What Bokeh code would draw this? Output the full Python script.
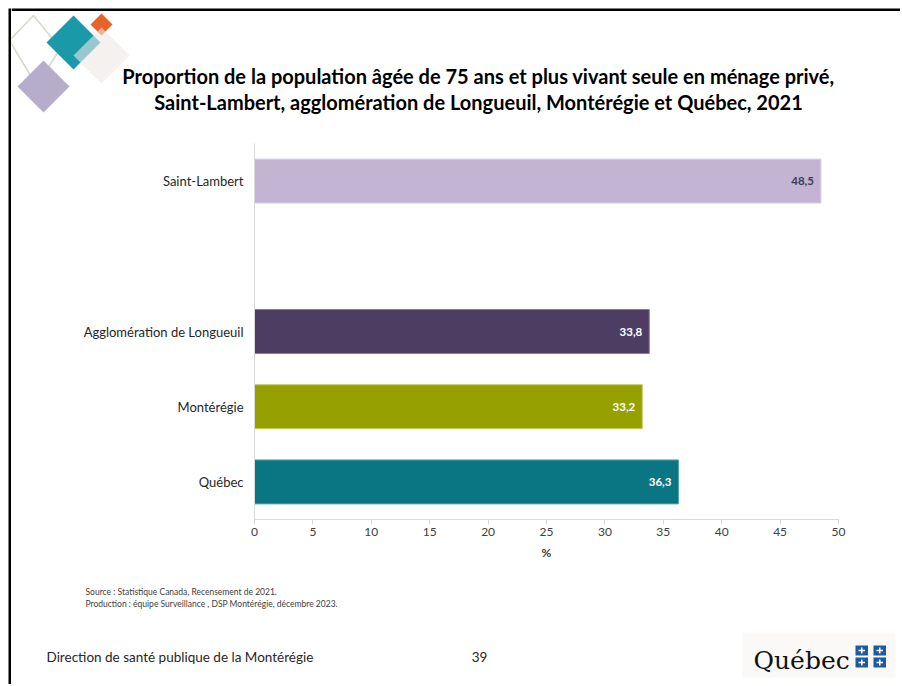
from bokeh.plotting import figure
from bokeh.models import ColumnDataSource, LabelSet, FactorRange, Range1d, FixedTicker
from bokeh.layouts import row, column
from bokeh.core.properties import value
from bokeh.embed import file_html
from bokeh.resources import INLINE

# ---------------- data ----------------
categories = ["Québec", "Montérégie", "Agglomération de Longueuil", " ", "Saint-Lambert"]
regions = ["Saint-Lambert", "Agglomération de Longueuil", "Montérégie", "Québec"]
values = [48.5, 33.8, 33.2, 36.3]
value_labels = ["48,5", "33,8", "33,2", "36,3"]
bar_colors = ["#c3b4d4", "#4e3d63", "#96a100", "#0a7684"]
bar_line_colors = ["#ddd3e8", "#8a7e9c", "#c4cc66", "#5aa5ae"]
label_colors = ["#3c3a55", "#ffffff", "#ffffff", "#ffffff"]
x_ticks = [0, 5, 10, 15, 20, 25, 30, 35, 40, 45, 50]

title_lines = ["Proportion de la population âgée de 75 ans et plus vivant seule en ménage privé,",
               "Saint-Lambert, agglomération de Longueuil, Montérégie et Québec, 2021"]
source_lines = ["Source : Statistique Canada, Recensement de 2021.",
                "Production : équipe Surveillance , DSP Montérégie, décembre 2023."]
footer_left = "Direction de santé publique de la Montérégie"
page_number = "39"
logo_text = "Québec"

FONT = "Lato"
TOTAL_W, TOTAL_H = 900, 684
STRIP_W = 11
MAIN_W = TOTAL_W - STRIP_W
HEAD_H, CHART_H = 135, 434
FOOT_H = TOTAL_H - HEAD_H - CHART_H


def canvas_fig(w, h):
    f = figure(width=w, height=h, x_range=Range1d(0, w), y_range=Range1d(h, 0),
               x_axis_type=None, y_axis_type=None, output_backend="svg",
               toolbar_location=None, min_border=0, frame_align=False)
    f.outline_line_color = None
    f.background_fill_color = "white"
    f.border_fill_color = "white"
    return f


def put_text(f, x, y, t, size, align="left", bold=False, color="#000000", font=FONT,
             baseline="middle"):
    f.text(x=[x], y=[y], text=[t], text_font=value(font), text_font_size=size,
           text_align=align, text_baseline=baseline, text_color=color,
           text_font_style="bold" if bold else "normal")


def diamond(f, cx, cy, r, color, alpha=1.0):
    f.patch(x=[cx, cx + r, cx, cx - r], y=[cy - r, cy, cy + r, cy],
            fill_color=color, fill_alpha=alpha, line_color=None)


# ---------------- left border strip ----------------
strip = canvas_fig(STRIP_W, TOTAL_H)
strip.quad(left=[8], right=[STRIP_W], top=[8], bottom=[TOTAL_H], fill_color="black", line_color=None)

# ---------------- header ----------------
head = canvas_fig(MAIN_W, HEAD_H)
head.quad(left=[0], right=[MAIN_W], top=[8], bottom=[10.5], fill_color="black", line_color=None)
head.patch(x=[22, 49, 25, -2], y=[15, 48, 85, 40], fill_alpha=0, line_color="#d3dac9", line_width=1.5)
diamond(head, 32, 86, 26, "#b5adc9")
diamond(head, 62, 42, 27, "#1a9aa8")
diamond(head, 90, 24, 11, "#e8622a")
diamond(head, 90, 55, 28, "#ece8e5", 0.6)
put_text(head, 467, 75, title_lines[0], "20px", align="center", bold=True)
put_text(head, 467, 101, title_lines[1], "20px", align="center", bold=True)

# ---------------- chart ----------------
src = ColumnDataSource(dict(region=regions, value=values, lab=value_labels,
                            color=bar_colors, line=bar_line_colors, lcol=label_colors))

p = figure(width=MAIN_W, height=CHART_H, y_range=FactorRange(*categories), x_range=Range1d(0, 50),
           output_backend="svg", toolbar_location=None, frame_align=False,
           min_border_left=243, min_border_right=62, min_border_top=8, min_border_bottom=50)
p.outline_line_color = None
p.xgrid.grid_line_color = None
p.ygrid.grid_line_color = None
p.background_fill_color = "white"
p.border_fill_color = "white"

p.hbar(y="region", right="value", left=0, height=0.585, source=src,
       fill_color="color", line_color="line", line_width=1)

p.add_layout(LabelSet(x="value", y="region", text="lab", source=src, x_offset=-7,
                      text_align="right", text_baseline="middle", text_color="lcol",
                      text_font=value(FONT), text_font_size="11.5px", text_font_style="bold"))

p.xaxis.ticker = FixedTicker(ticks=x_ticks)
p.xaxis.axis_line_color = "#d9d9d9"
p.xaxis.major_tick_line_color = "#d9d9d9"
p.xaxis.major_tick_out = 5
p.xaxis.major_tick_in = 0
p.xaxis.minor_tick_line_color = None
p.xaxis.major_label_text_font = FONT
p.xaxis.major_label_text_font_size = "12px"
p.xaxis.major_label_text_color = "#404040"
p.xaxis.major_label_standoff = 3
p.xaxis.axis_label = "%"
p.xaxis.axis_label_text_font = FONT
p.xaxis.axis_label_text_font_size = "12px"
p.xaxis.axis_label_text_font_style = "bold"
p.xaxis.axis_label_text_color = "#404040"
p.xaxis.axis_label_standoff = 6

p.yaxis.axis_line_color = "#d9d9d9"
p.yaxis.major_tick_line_color = None
p.yaxis.major_tick_out = 0
p.yaxis.minor_tick_line_color = None
p.yaxis.major_label_text_font = FONT
p.yaxis.major_label_text_font_size = "13px"
p.yaxis.major_label_text_color = "#262626"
p.yaxis.major_label_standoff = 11

# ---------------- footer ----------------
foot = canvas_fig(MAIN_W, FOOT_H)
put_text(foot, 74, 22, source_lines[0], "8.5px", color="#404040")
put_text(foot, 74, 34, source_lines[1], "8.5px", color="#404040")
put_text(foot, 35, 87, footer_left, "13.5px", color="#262626")
put_text(foot, 468, 87, page_number, "13.5px", align="center", color="#262626")
foot.quad(left=[731], right=[884], top=[63], bottom=[108], fill_color="#fbf9f7", line_color=None)
put_text(foot, 742, 91, logo_text, "25px", font="DejaVu Serif", color="#111111",
         baseline="alphabetic")
for (l, t) in [(844, 76), (862, 76), (844, 88), (862, 88)]:
    foot.quad(left=[l], right=[l + 12.5], top=[t], bottom=[t + 10], fill_color="#1e5aa0", line_color=None)
    foot.segment(x0=[l + 6.25], y0=[t + 2], x1=[l + 6.25], y1=[t + 8], line_color="white", line_width=1.5)
    foot.segment(x0=[l + 3], y0=[t + 5], x1=[l + 9.5], y1=[t + 5], line_color="white", line_width=1.5)

layout = row(strip, column(head, p, foot))
open("out.html", "w").write(file_html(layout, INLINE))
